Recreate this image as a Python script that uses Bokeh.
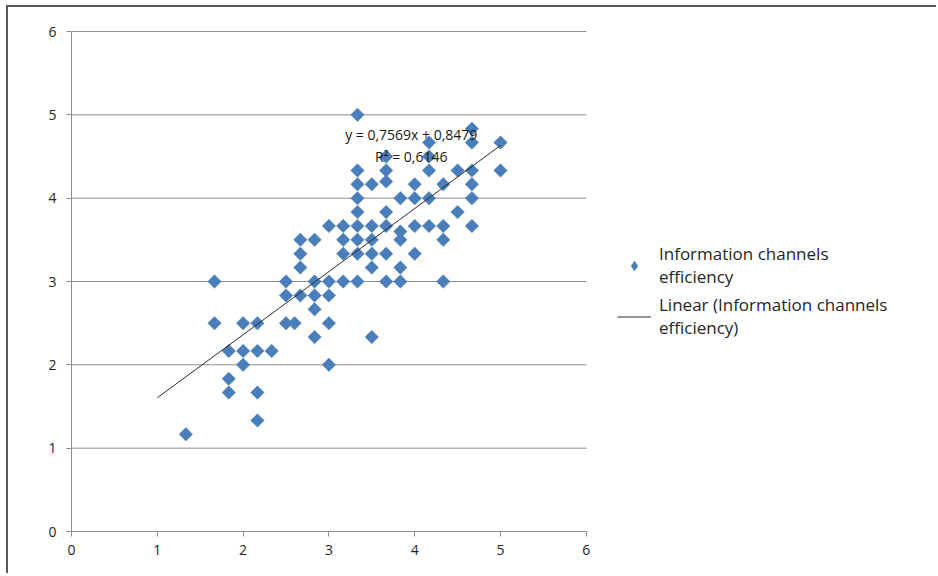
import math
from bokeh.plotting import figure
from bokeh.models import Range1d, Legend, LegendItem, Label, FixedTicker
from bokeh.embed import file_html
from bokeh.resources import INLINE

# ---------------- data ----------------
x_values = [
    1.333,
    1.667, 1.667,
    1.833, 1.833, 1.833,
    2.0, 2.0, 2.0,
    2.167, 2.167, 2.167, 2.167,
    2.333,
    2.5, 2.5, 2.5,
    2.6,
    2.667, 2.667, 2.667, 2.667,
    2.833, 2.833, 2.833, 2.833, 2.833,
    3.0, 3.0, 3.0, 3.0, 3.0,
    3.167, 3.167, 3.167, 3.167,
    3.333, 3.333, 3.333, 3.333, 3.333, 3.333, 3.333, 3.333, 3.333,
    3.5, 3.5, 3.5, 3.5, 3.5, 3.5,
    3.667, 3.667, 3.667, 3.667, 3.667, 3.667, 3.667,
    3.833, 3.833, 3.833, 3.833, 3.833,
    4.0, 4.0, 4.0, 4.0,
    4.167, 4.167, 4.167, 4.167, 4.167,
    4.333, 4.333, 4.333, 4.333,
    4.5, 4.5,
    4.667, 4.667, 4.667, 4.667, 4.667, 4.667,
    5.0, 5.0,
]
y_values = [
    1.167,
    3.0, 2.5,
    2.167, 1.833, 1.667,
    2.5, 2.167, 2.0,
    2.5, 2.167, 1.667, 1.333,
    2.167,
    3.0, 2.833, 2.5,
    2.5,
    3.5, 3.333, 3.167, 2.833,
    3.5, 3.0, 2.833, 2.667, 2.333,
    3.667, 3.0, 2.833, 2.5, 2.0,
    3.667, 3.5, 3.333, 3.0,
    5.0, 4.333, 4.167, 4.0, 3.833, 3.667, 3.5, 3.333, 3.0,
    4.167, 3.667, 3.5, 3.333, 3.167, 2.333,
    4.5, 4.333, 4.2, 3.833, 3.667, 3.333, 3.0,
    4.0, 3.6, 3.5, 3.167, 3.0,
    4.167, 4.0, 3.667, 3.333,
    4.667, 4.5, 4.333, 4.0, 3.667,
    4.167, 3.667, 3.5, 3.0,
    4.333, 3.833,
    4.833, 4.667, 4.333, 4.167, 4.0, 3.667,
    4.667, 4.333,
]
trend_slope = 0.7569
trend_intercept = 0.8479
trend_x = [1.0, 5.0]
trend_y = [trend_slope * v + trend_intercept for v in trend_x]

x_ticks = [0, 1, 2, 3, 4, 5, 6]
y_ticks = [0, 1, 2, 3, 4, 5, 6]

series_name = "Information channels\nefficiency"
trend_name = "Linear (Information channels\nefficiency)"
equation_text = "y = 0,7569x + 0,8479"
r2_text = "R\u00b2 = 0,6146"

# ---------------- figure ----------------
FONT = "Open Sans"
GRID = "#8c8c8c"
TXT = "#262626"
BLUE = "#4A7EBB"

x_lo, x_hi = min(x_ticks), max(x_ticks)
y_lo, y_hi = min(y_ticks), max(y_ticks)

# plot frame is wider than the 0..6 axis so the legend area on the right is drawable
p = figure(width=930, height=568, output_backend="svg", toolbar_location=None,
           x_range=Range1d(x_lo, 10.0), y_range=Range1d(y_lo, y_hi + 0.024),
           min_border_left=63, min_border_right=9,
           min_border_top=22, min_border_bottom=44)
p.outline_line_color = None
p.background_fill_color = "white"
p.border_fill_color = "white"
p.styles = {"margin-left": "6px", "margin-top": "5px",
            "border-left": "2px solid #5a5a5a", "border-top": "2px solid #5a5a5a"}

for ax, ticks in ((p.xaxis[0], x_ticks), (p.yaxis[0], y_ticks)):
    ax.ticker = FixedTicker(ticks=ticks)
    ax.bounds = (min(ticks), max(ticks))
    ax.axis_line_color = GRID
    ax.axis_line_width = 1
    ax.major_tick_line_color = GRID
    ax.major_tick_out = 5
    ax.major_tick_in = 0
    ax.minor_tick_line_color = None
    ax.major_label_text_font = FONT
    ax.major_label_text_font_size = "14px"
    ax.major_label_text_color = TXT
p.xaxis.major_label_standoff = 8
p.yaxis.major_label_standoff = 10

# horizontal gridlines only over the 0..6 plot area
p.xgrid.visible = False
p.ygrid.visible = False
p.segment(x0=[x_lo] * len(y_ticks[1:]), x1=[x_hi] * len(y_ticks[1:]),
          y0=y_ticks[1:], y1=y_ticks[1:], line_color=GRID, line_width=1)

sc = p.scatter(x=x_values, y=y_values, marker="square", angle=math.pi / 4,
               size=9.5, fill_color=BLUE, line_color=BLUE, line_width=0.5)
# legend key: a diamond drawn on the first data point (hidden inside it)
sc_key = p.scatter(x=x_values[:1], y=y_values[:1], marker="diamond", size=12,
                   fill_color=BLUE, line_color=BLUE, line_width=0.5)
ln = p.line(x=trend_x, y=trend_y, line_color="#2b2b2b", line_width=1)

p.add_layout(Label(x=3.96, y=4.77, text=equation_text, text_align="center",
                   text_baseline="middle", text_font=FONT, text_font_size="14px",
                   text_color="#1a1a1a"))
p.add_layout(Label(x=3.96, y=4.50, text=r2_text, text_align="center",
                   text_baseline="middle", text_font=FONT, text_font_size="14px",
                   text_color="#1a1a1a"))

legend = Legend(items=[LegendItem(label=series_name, renderers=[sc_key]),
                       LegendItem(label=trend_name, renderers=[ln])],
                location=(546, 192), padding=0, margin=0, spacing=5,
                glyph_width=34, glyph_height=25, label_standoff=8,
                border_line_color=None, background_fill_alpha=0,
                label_text_font=FONT, label_text_font_size="17px",
                label_text_color="#262626")
p.add_layout(legend, "center")

open("out.html", "w").write(file_html(p, INLINE))
